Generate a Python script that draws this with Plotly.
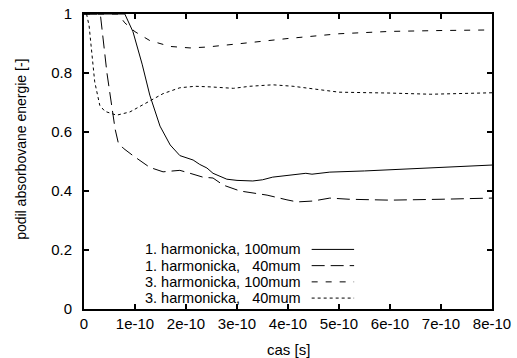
import plotly.graph_objects as go
import numpy as np

# time in units of 1e-10 s
t_h1_100 = [0, 0.8, 0.96, 1.14, 1.29, 1.49, 1.69, 1.88, 2.14, 2.27, 2.41, 2.53, 2.8, 3.0, 3.31, 3.5, 3.7, 4.17, 4.35, 4.47, 4.82, 5.5, 6.0, 7.0, 8.0]
v_h1_100 = [1, 1, 0.94, 0.83, 0.725, 0.62, 0.556, 0.52, 0.505, 0.49, 0.478, 0.46, 0.44, 0.436, 0.434, 0.438, 0.447, 0.457, 0.46, 0.457, 0.464, 0.468, 0.472, 0.48, 0.488]

t_h1_40 = [0, 0.32, 0.45, 0.55, 0.61, 0.67, 0.77, 0.96, 1.29, 1.55, 1.88, 2.08, 2.33, 2.53, 2.73, 3.06, 3.59, 3.98, 4.18, 4.49, 4.82, 5.2, 6.0, 7.0, 8.0]
v_h1_40 = [1, 1, 0.80, 0.69, 0.61, 0.565, 0.545, 0.52, 0.48, 0.465, 0.47, 0.46, 0.447, 0.444, 0.42, 0.40, 0.386, 0.37, 0.363, 0.366, 0.376, 0.372, 0.369, 0.372, 0.376]

t_h3_100 = [0, 0.67, 0.8, 1.0, 1.29, 1.69, 2.08, 2.41, 3.25, 4.0, 5.0, 6.0, 7.0, 8.0]
v_h3_100 = [1, 1, 0.97, 0.94, 0.91, 0.89, 0.885, 0.888, 0.903, 0.917, 0.933, 0.941, 0.944, 0.946]

t_h3_40 = [0.05, 0.1, 0.21, 0.31, 0.41, 0.64, 0.9, 1.23, 1.55, 1.88, 2.18, 2.47, 2.93, 3.25, 3.7, 4.1, 4.43, 4.69, 5.0, 6.0, 6.8, 8.0]
v_h3_40 = [1, 0.96, 0.77, 0.69, 0.67, 0.657, 0.668, 0.70, 0.73, 0.75, 0.755, 0.753, 0.748, 0.755, 0.76, 0.755, 0.748, 0.74, 0.735, 0.732, 0.728, 0.733]

names = ["1. harmonicka, 100mum", "1. harmonicka,\u00a0\u00a0\u00a040mum",
         "3. harmonicka, 100mum", "3. harmonicka,\u00a0\u00a0\u00a040mum"]
x_ticks = [0, 1e-10, 2e-10, 3e-10, 4e-10, 5e-10, 6e-10, 7e-10, 8e-10]
x_ticktext = ["0", "1e-10", "2e-10", "3e-10", "4e-10", "5e-10", "6e-10", "7e-10", "8e-10"]
y_ticks = [0, 0.2, 0.4, 0.6, 0.8, 1]
y_ticktext = ["0", "0.2", "0.4", "0.6", "0.8", "1"]
x_title = "cas [s]"
y_title = "podil absorbovane energie [-]"

series = [(t_h1_100, v_h1_100), (t_h1_40, v_h1_40), (t_h3_100, v_h3_100), (t_h3_40, v_h3_40)]
dashes = ["solid", "13px,6px", "6px,8px", "3px,3px"]

FONT = "Liberation Sans, Arial, sans-serif"
FS = 15
KFS = 14.5
fig = go.Figure()
for (t, v), d, n in zip(series, dashes, names):
    fig.add_trace(go.Scatter(x=np.array(t) * 1e-10, y=v, mode="lines", name=n,
                             line=dict(color="black", width=1, dash=d), showlegend=False))

# gnuplot-style key: text right-aligned, sample on right
key_y = [0.202, 0.147, 0.092, 0.037]
for n, d, yy in zip(names, dashes, key_y):
    fig.add_annotation(xref="paper", yref="paper", x=0.535, y=yy, text=n, showarrow=False,
                       xanchor="right", yanchor="middle", borderpad=0,
                       font=dict(size=KFS, color="black", family=FONT))
    fig.add_shape(type="line", xref="paper", yref="paper", x0=0.558, x1=0.662, y0=yy, y1=yy,
                  line=dict(color="black", width=1, dash=d))

# axis titles
fig.add_annotation(xref="paper", yref="paper", x=0.5, y=-0.136, text=x_title, showarrow=False,
                   xanchor="center", yanchor="middle", font=dict(size=FS, color="black", family=FONT))
fig.add_annotation(xref="paper", yref="paper", x=-0.154, y=0.54, text=y_title, showarrow=False,
                   textangle=-90, xanchor="center", yanchor="middle",
                   font=dict(size=14, color="black", family=FONT))

axis_common = dict(showline=True, linecolor="black", linewidth=2, mirror="ticks", ticks="inside",
                   ticklen=5, tickwidth=2, tickcolor="black", showgrid=False, zeroline=False,
                   automargin=False, tickfont=dict(size=FS, color="black", family=FONT))
fig.update_xaxes(range=[0, 8e-10], tickvals=x_ticks, ticktext=x_ticktext,
                 ticklabelstandoff=0, **axis_common)
fig.update_yaxes(range=[0, 1], tickvals=y_ticks, ticktext=y_ticktext,
                 ticklabelstandoff=7, **axis_common)
fig.update_layout(width=517, height=358, margin=dict(l=84, r=25, t=14, b=49),
                  plot_bgcolor="white", paper_bgcolor="white", showlegend=False)
fig.write_html("out.html")
